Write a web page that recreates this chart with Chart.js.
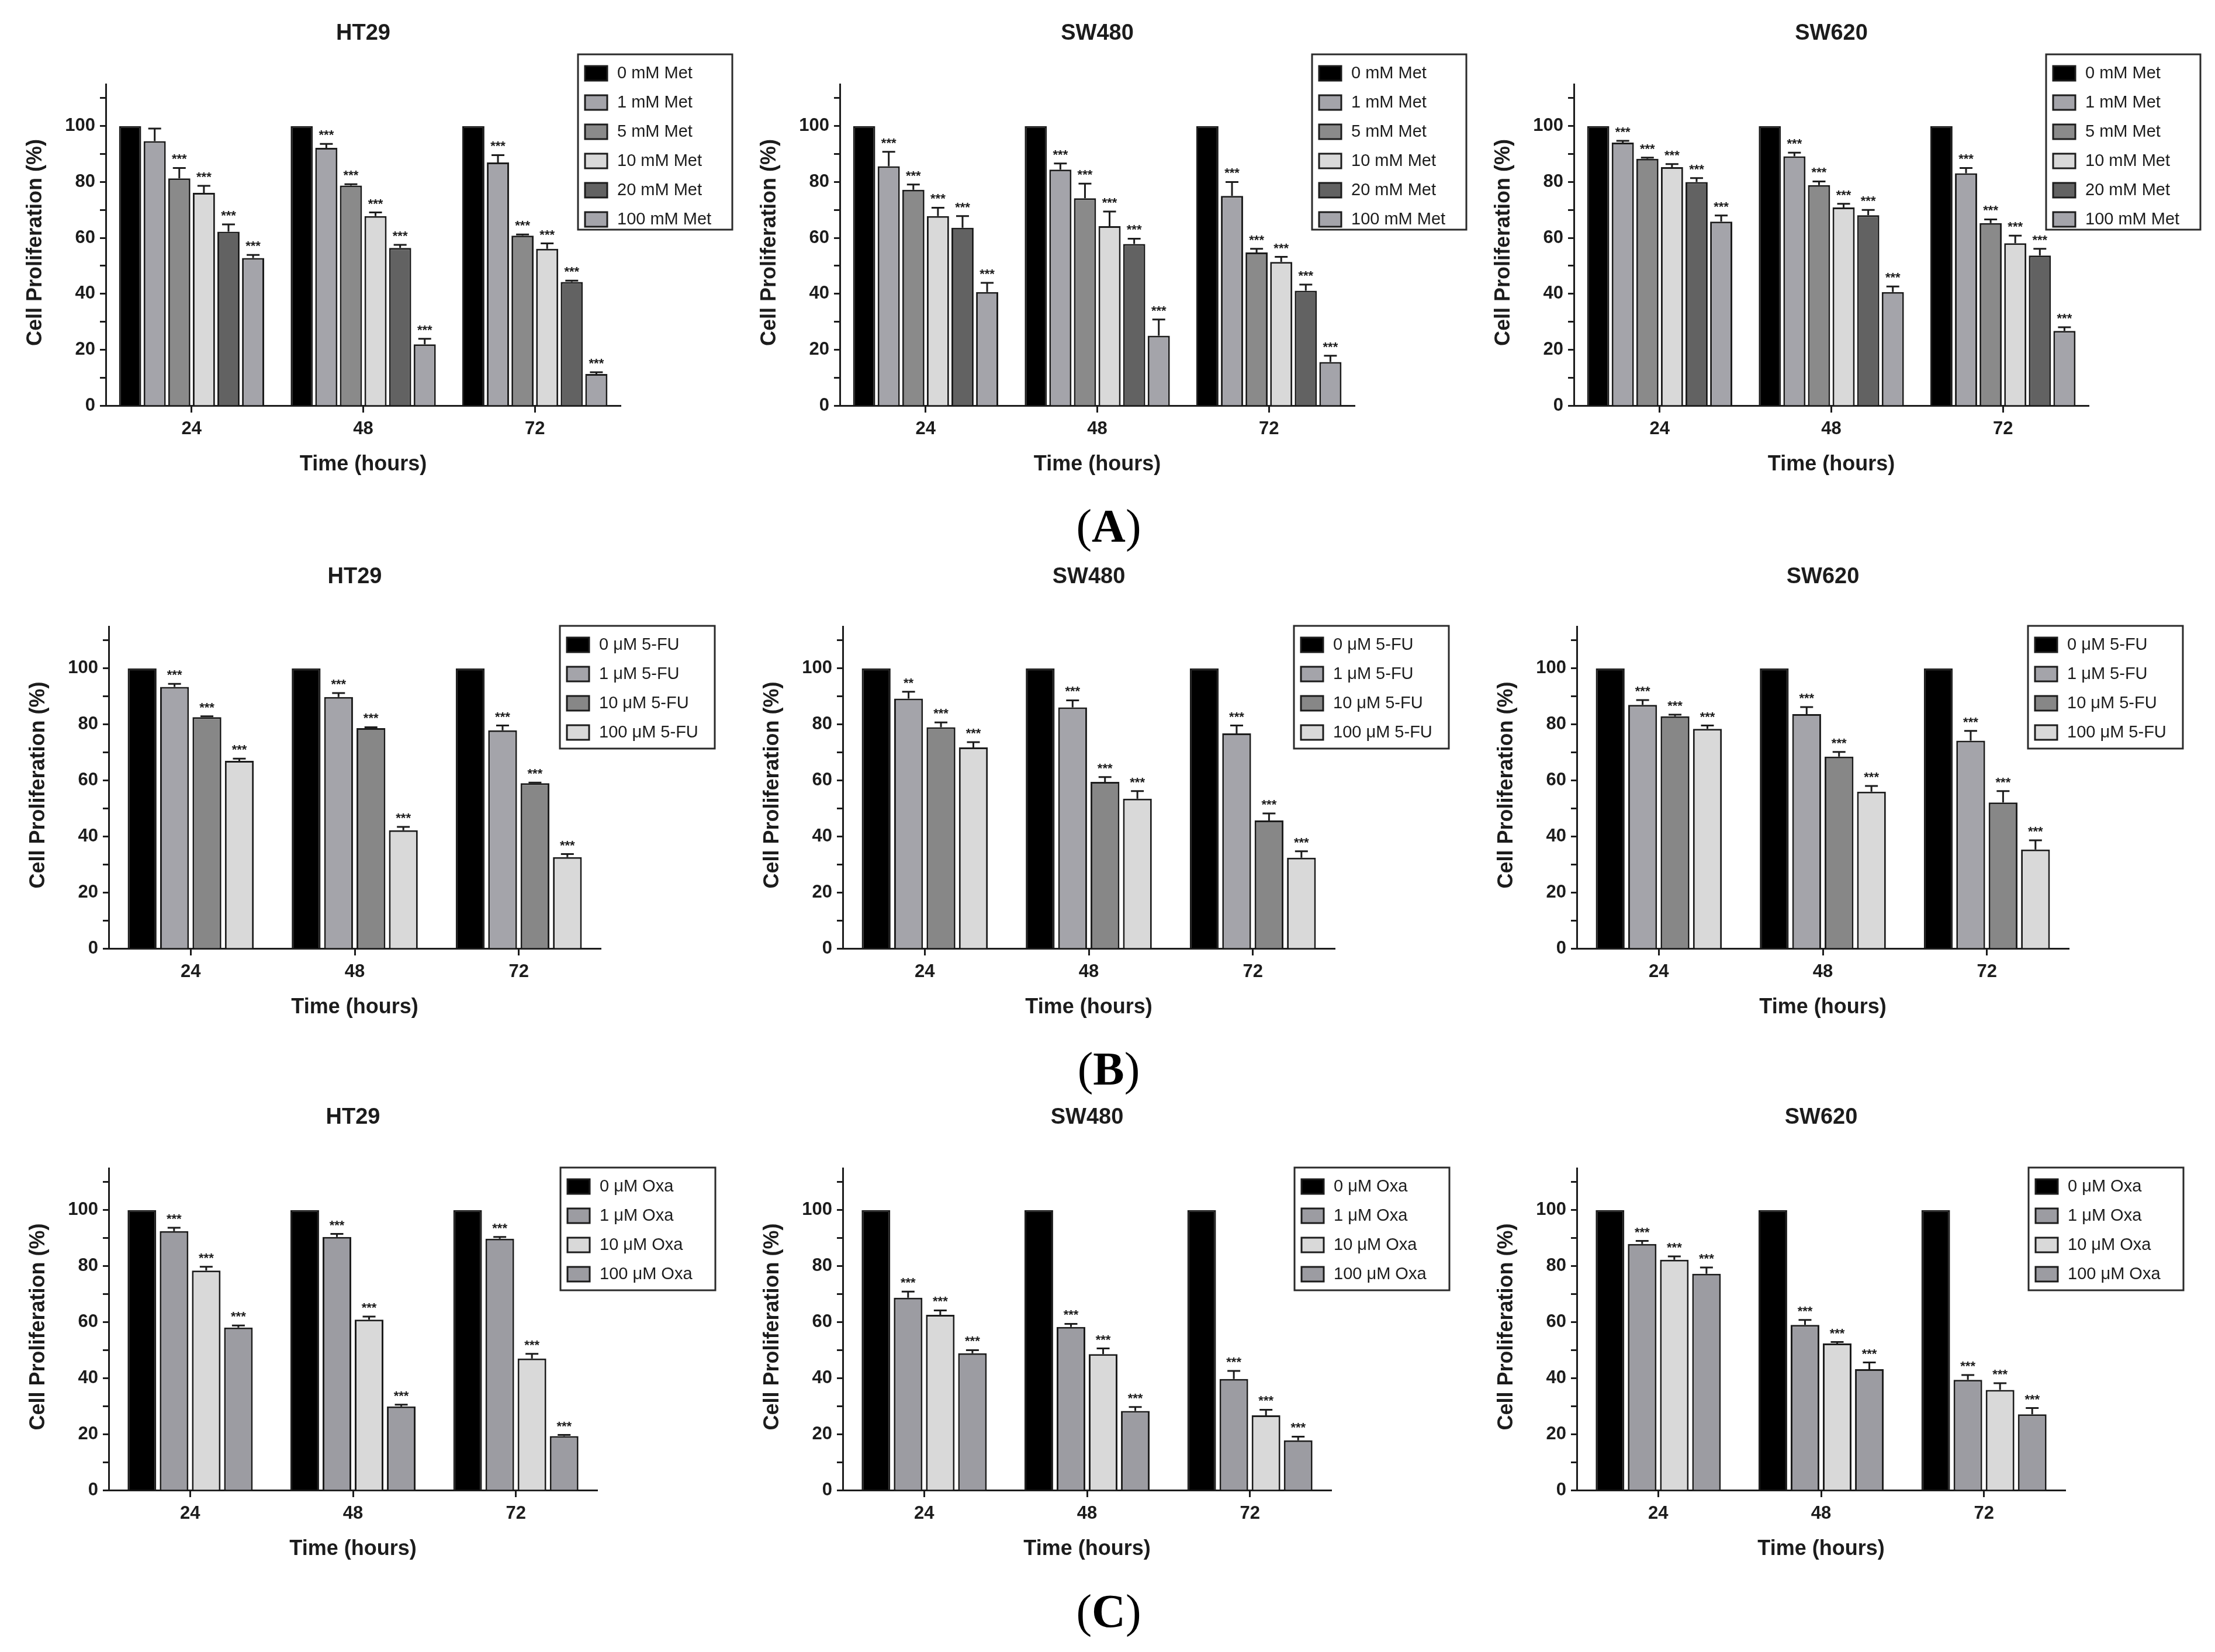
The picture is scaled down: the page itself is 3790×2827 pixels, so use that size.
<!DOCTYPE html>
<html>
<head>
<meta charset="utf-8">
<script src="https://cdn.jsdelivr.net/npm/chart.js@4.4.1/dist/chart.umd.min.js"></script>
<style>
  body { margin: 0; background: #fff; width: 3790px; height: 2827px; position: relative; overflow: hidden; }
  canvas { position: absolute; }
  .panel { position: absolute; width: 400px; text-align: center; font: 80px "Liberation Serif", "Times New Roman", serif; color: #000; line-height: 1; }
</style>
</head>
<body>
<div id="wrap"></div>
<div class="panel" style="left:1697px; top:860px;">(<b>A</b>)</div>
<div class="panel" style="left:1697px; top:1789px;">(<b>B</b>)</div>
<div class="panel" style="left:1697px; top:2717px;">(<b>C</b>)</div>
<script>
// time points on the x axis
const timeLabels = ['24', '48', '72'];
const cellLines = ['HT29', 'SW480', 'SW620'];

// legend labels per treatment
const metLabels = ['0 mM Met', '1 mM Met', '5 mM Met', '10 mM Met', '20 mM Met', '100 mM Met'];
const fuLabels = ['0 μM 5-FU', '1 μM 5-FU', '10 μM 5-FU', '100 μM 5-FU'];
const oxaLabels = ['0 μM Oxa', '1 μM Oxa', '10 μM Oxa', '100 μM Oxa'];

// bar fills
const metColors = ['#000000', '#a4a4aa', '#8a8a8a', '#d9d9d9', '#626262', '#a4a4aa'];
const fuColors = ['#000000', '#a4a4aa', '#878787', '#d9d9d9'];
const oxaColors = ['#000000', '#9c9ca2', '#d9d9d9', '#9c9ca2'];

// (A) metformin - rows are doses, columns are 24/48/72 h
const ht29Met = [[100, 100, 100], [94.6, 92.2, 87], [81.3, 78.7, 60.8], [76.1, 67.8, 56.1], [62.2, 56.4, 44.2], [52.8, 21.9, 11.3]];
const ht29MetErr = [[0, 0, 0], [4.5, 1.4, 2.6], [3.7, 0.5, 0.4], [2.5, 1.3, 1.9], [2.6, 1.1, 0.5], [1.1, 2, 0.6]];
const ht29MetSig = [['', '', ''], ['', '***', '***'], ['***', '***', '***'], ['***', '***', '***'], ['***', '***', '***'], ['***', '***', '***']];

const sw480Met = [[100, 100, 100], [85.6, 84.4, 75], [77.2, 74.2, 54.8], [67.8, 64.2, 51.4], [63.6, 57.8, 41.1], [40.6, 25, 15.6]];
const sw480MetErr = [[0, 0, 0], [5.2, 2.2, 5], [1.9, 5.2, 1.3], [3, 5.2, 1.8], [4.2, 1.9, 2.2], [3.3, 5.8, 2.2]];
const sw480MetSig = [['', '', ''], ['***', '***', '***'], ['***', '***', '***'], ['***', '***', '***'], ['***', '***', '***'], ['***', '***', '***']];

const sw620Met = [[100, 100, 100], [94.1, 89.2, 83.1], [88.3, 78.9, 65.3], [85.3, 70.9, 58.1], [80, 68.1, 53.7], [65.8, 40.6, 26.7]];
const sw620MetErr = [[0, 0, 0], [0.6, 1.3, 1.9], [0.4, 1.3, 1.3], [1.1, 1.3, 2.7], [1.4, 1.9, 2.4], [2.2, 2, 1.3]];
const sw620MetSig = [['', '', ''], ['***', '***', '***'], ['***', '***', '***'], ['***', '***', '***'], ['***', '***', '***'], ['***', '***', '***']];

// (B) 5-FU
const ht29Fu = [[100, 100, 100], [93.4, 89.8, 77.9], [82.6, 78.7, 59], [67, 42.2, 32.6]];
const ht29FuErr = [[0, 0, 0], [1.1, 1.4, 1.7], [0.3, 0.3, 0.2], [0.8, 1.2, 1.1]];
const ht29FuSig = [['', '', ''], ['***', '***', '***'], ['***', '***', '***'], ['***', '***', '***']];

const sw480Fu = [[100, 100, 100], [89.2, 86.1, 76.8], [79, 59.5, 45.7], [71.8, 53.5, 32.4]];
const sw480FuErr = [[0, 0, 0], [2.5, 2.5, 2.8], [1.7, 1.7, 2.5], [1.9, 2.7, 2.3]];
const sw480FuSig = [['', '', ''], ['**', '***', '***'], ['***', '***', '***'], ['***', '***', '***']];

const sw620Fu = [[100, 100, 100], [87, 83.7, 74.2], [82.9, 68.5, 52.1], [78.4, 56, 35.3]];
const sw620FuErr = [[0, 0, 0], [1.7, 2.5, 3.5], [0.6, 1.7, 4.1], [1.2, 2, 3.3]];
const sw620FuSig = [['', '', ''], ['***', '***', '***'], ['***', '***', '***'], ['***', '***', '***']];

// (C) oxaliplatin
const ht29Oxa = [[100, 100, 100], [92.5, 90.4, 89.8], [78.4, 60.9, 47], [58.1, 29.9, 19.3]];
const ht29OxaErr = [[0, 0, 0], [1.2, 1.1, 0.6], [1.4, 1.1, 1.7], [0.7, 0.6, 0.4]];
const ht29OxaSig = [['', '', ''], ['***', '***', '***'], ['***', '***', '***'], ['***', '***', '***']];

const sw480Oxa = [[100, 100, 100], [68.7, 58.3, 39.7], [62.6, 48.6, 26.7], [48.9, 28.3, 17.8]];
const sw480OxaErr = [[0, 0, 0], [2.2, 1.1, 2.9], [1.6, 2, 2], [1.1, 1.4, 1.3]];
const sw480OxaSig = [['', '', ''], ['***', '***', '***'], ['***', '***', '***'], ['***', '***', '***']];

const sw620Oxa = [[100, 100, 100], [87.9, 59, 39.4], [82.3, 52.4, 35.8], [77.3, 43.2, 27.1]];
const sw620OxaErr = [[0, 0, 0], [1.1, 1.8, 1.7], [1.2, 0.5, 2.4], [2.2, 2.4, 2.2]];
const sw620OxaSig = [['', '', ''], ['***', '***', '***'], ['***', '***', '***'], ['***', '***', '***']];

const FONT = '"Liberation Sans", Arial, Helvetica, sans-serif';
const INK = '#1c1c1c';

// title, axis titles, legend, error bars and stars
const decorPlugin = {
  id: 'decor',
  afterDatasetsDraw(chart, args, opts) {
    const { ctx, scales: { y } } = chart;
    ctx.save();
    ctx.strokeStyle = INK;
    ctx.fillStyle = INK;
    ctx.lineWidth = 3;
    chart.data.datasets.forEach((ds, i) => {
      const meta = chart.getDatasetMeta(i);
      meta.data.forEach((bar, j) => {
        const err = ds.errors[j];
        let top = y.getPixelForValue(ds.data[j]);
        if (err > 0) {
          top = y.getPixelForValue(ds.data[j] + err);
          ctx.beginPath();
          ctx.moveTo(bar.x, y.getPixelForValue(ds.data[j]));
          ctx.lineTo(bar.x, top);
          ctx.moveTo(bar.x - 11, top);
          ctx.lineTo(bar.x + 11, top);
          ctx.stroke();
        }
        if (ds.stars[j]) {
          ctx.font = 'bold 22px ' + FONT;
          ctx.textAlign = 'center';
          ctx.textBaseline = 'alphabetic';
          ctx.fillText(ds.stars[j], bar.x, top - 8);
        }
      });
    });
    ctx.restore();
  },
  afterDraw(chart, args, opts) {
    const { ctx, chartArea: a } = chart;
    ctx.save();
    ctx.fillStyle = INK;
    ctx.textAlign = 'center';
    ctx.textBaseline = 'middle';
    ctx.font = 'bold 38px ' + FONT;
    ctx.fillText(opts.title, (a.left + a.right) / 2, opts.titleY);

    ctx.font = 'bold 36px ' + FONT;
    ctx.fillText('Time (hours)', (a.left + a.right) / 2, a.bottom + 101);
    ctx.save();
    ctx.translate(a.left - 120, (a.top + a.bottom) / 2 - 4);
    ctx.rotate(-Math.PI / 2);
    ctx.fillText('Cell Proliferation (%)', 0, 0);
    ctx.restore();

    // legend box
    const L = opts.legend;
    ctx.strokeStyle = '#2a2a2a';
    ctx.lineWidth = 3;
    ctx.fillStyle = '#fff';
    ctx.fillRect(L.x, L.y, L.w, L.h);
    ctx.strokeRect(L.x, L.y, L.w, L.h);
    ctx.textAlign = 'left';
    ctx.font = '29px ' + FONT;
    chart.data.datasets.forEach((ds, i) => {
      const cy = L.y + 32 + i * 50;
      ctx.fillStyle = ds.backgroundColor;
      ctx.fillRect(L.x + 12, cy - 12, 38, 25);
      ctx.strokeStyle = INK;
      ctx.strokeRect(L.x + 12, cy - 12, 38, 25);
      ctx.fillStyle = INK;
      ctx.fillText(ds.label, L.x + 67, cy + 1);
    });
    ctx.restore();
  }
};

const W = 1262, H = 860;
const rows = [
  { top: 144, bottom: 694, left: 181, right: 1062, titleY: 58, legend: { x: 989, y: 93, w: 264, h: 300 }, cat: 0.86, bar: 0.9 },
  { top: 142, bottom: 693, left: 186, right: 1028, titleY: 58, legend: { x: 958, y: 141, w: 265, h: 210 }, cat: 0.79, bar: 0.89 },
  { top: 139, bottom: 690, left: 186, right: 1022, titleY: 53, legend: { x: 959, y: 138, w: 265, h: 210 }, cat: 0.79, bar: 0.89 },
];

function makeChart(row, col, labels, colors, means, errs, sigs) {
  const r = rows[row];
  const canvas = document.createElement('canvas');
  canvas.width = W;
  canvas.height = H;
  canvas.style.left = (col * 1256) + 'px';
  canvas.style.top = (row * 930) + 'px';
  canvas.style.width = W + 'px';
  canvas.style.height = H + 'px';
  document.getElementById('wrap').appendChild(canvas);

  new Chart(canvas.getContext('2d'), {
    type: 'bar',
    data: {
      labels: timeLabels,
      datasets: labels.map((label, i) => ({
        label: label,
        data: means[i],
        errors: errs[i],
        stars: sigs[i],
        backgroundColor: colors[i],
        borderColor: INK,
        borderWidth: 3,
        categoryPercentage: r.cat,
        barPercentage: r.bar,
      }))
    },
    options: {
      responsive: false,
      animation: false,
      devicePixelRatio: 1,
      layout: { padding: { left: r.left - 120, top: r.top, right: W - r.right, bottom: H - r.bottom - 100 } },
      plugins: {
        legend: { display: false },
        title: { display: false },
        tooltip: { enabled: false },
        decor: { title: cellLines[col], titleY: r.titleY, legend: r.legend },
      },
      scales: {
        x: {
          offset: true,
          afterFit: s => { s.height = 100; },
          grid: { display: true, drawOnChartArea: false, offset: false, tickLength: 12, tickWidth: 3, color: INK },
          border: { display: true, width: 3, color: INK },
          ticks: { color: INK, padding: 10, font: { family: FONT, size: 31, weight: 'bold' } },
        },
        y: {
          min: 0,
          max: 115,
          afterFit: s => { s.width = 120; },
          grid: { display: true, drawOnChartArea: false, tickLength: 10, tickWidth: 3, color: INK },
          border: { display: true, width: 3, color: INK },
          ticks: {
            stepSize: 10,
            includeBounds: false,
            autoSkip: false,
            color: INK,
            padding: 8,
            font: { family: FONT, size: 31, weight: 'bold' },
            callback: v => (v % 20 === 0 && v <= 100) ? v : '',
          },
        },
      },
    },
    plugins: [decorPlugin],
  });
}

makeChart(0, 0, metLabels, metColors, ht29Met, ht29MetErr, ht29MetSig);
makeChart(0, 1, metLabels, metColors, sw480Met, sw480MetErr, sw480MetSig);
makeChart(0, 2, metLabels, metColors, sw620Met, sw620MetErr, sw620MetSig);
makeChart(1, 0, fuLabels, fuColors, ht29Fu, ht29FuErr, ht29FuSig);
makeChart(1, 1, fuLabels, fuColors, sw480Fu, sw480FuErr, sw480FuSig);
makeChart(1, 2, fuLabels, fuColors, sw620Fu, sw620FuErr, sw620FuSig);
makeChart(2, 0, oxaLabels, oxaColors, ht29Oxa, ht29OxaErr, ht29OxaSig);
makeChart(2, 1, oxaLabels, oxaColors, sw480Oxa, sw480OxaErr, sw480OxaSig);
makeChart(2, 2, oxaLabels, oxaColors, sw620Oxa, sw620OxaErr, sw620OxaSig);
</script>
</body>
</html>
